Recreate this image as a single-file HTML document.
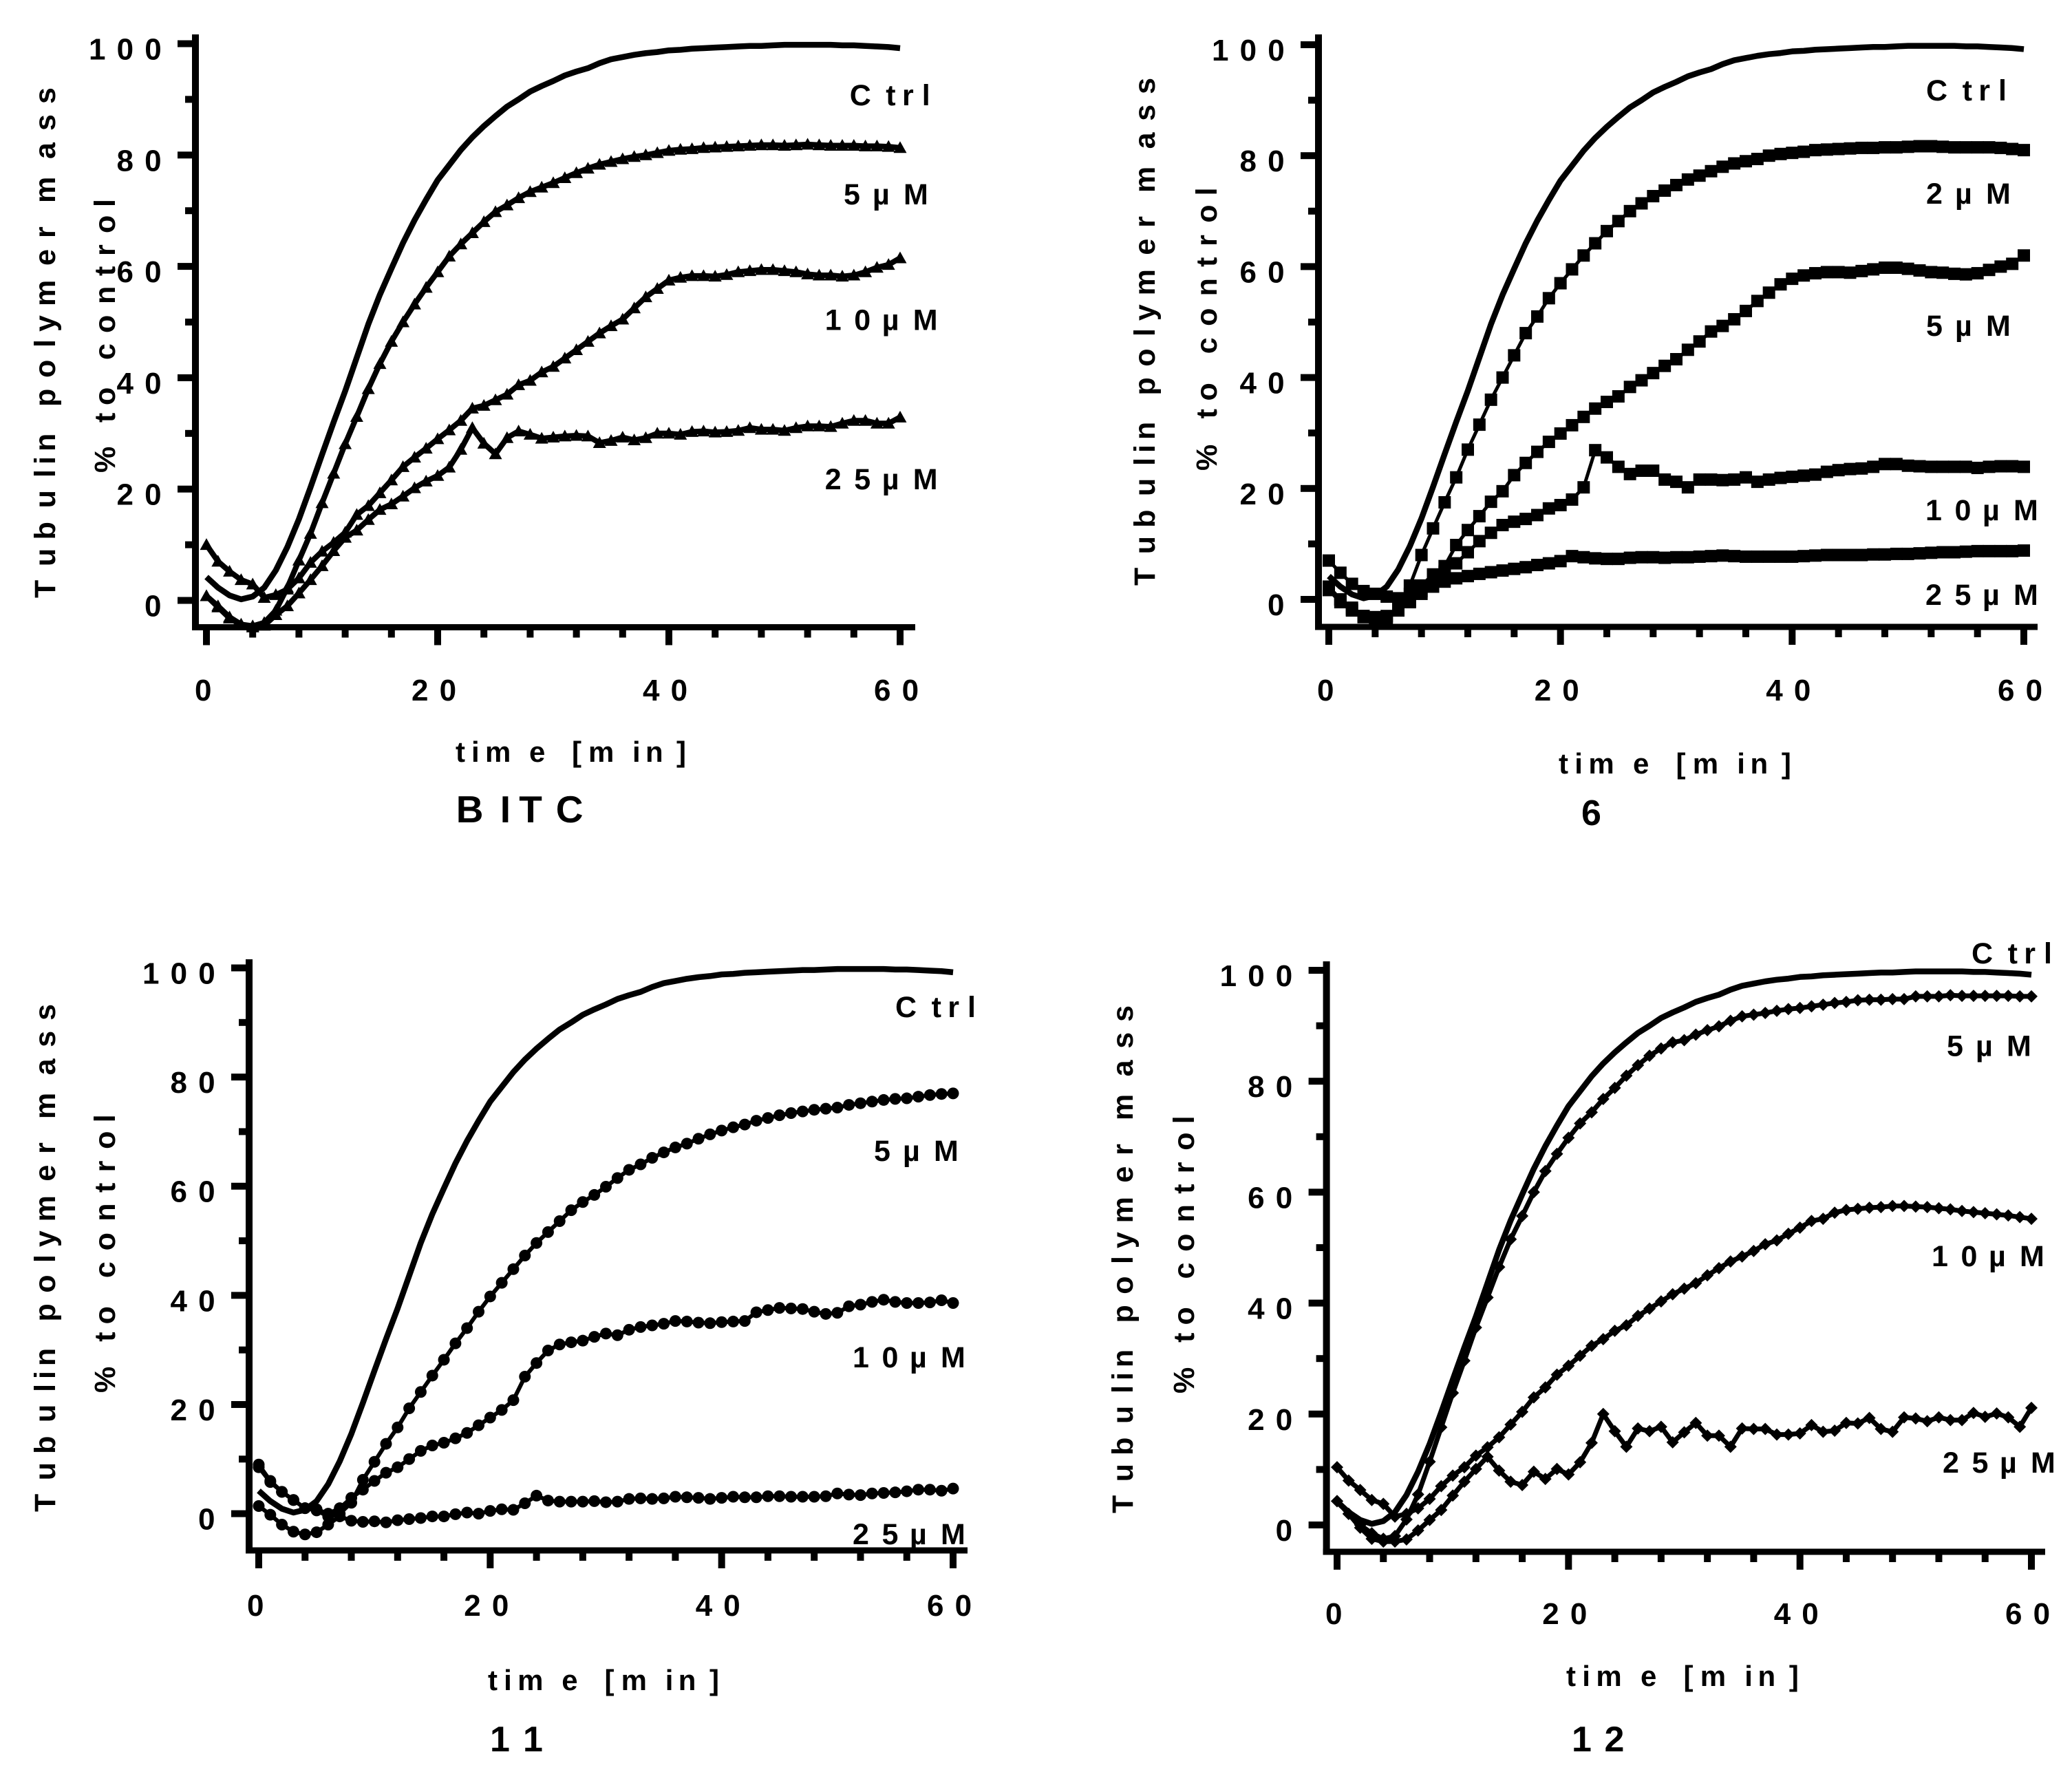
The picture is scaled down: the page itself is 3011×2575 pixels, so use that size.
<!DOCTYPE html>
<html lang="en">
<head>
<meta charset="utf-8">
<title>Tubulin polymerization charts</title>
<style>
html,body{margin:0;padding:0;background:#fff;}
svg{display:block;}
text{font-family:"Liberation Sans",Arial,sans-serif;font-weight:700;fill:#000;}
</style>
</head>
<body>
<svg id="figure" xmlns="http://www.w3.org/2000/svg" width="3011" height="2575" viewBox="0 0 3011 2575">
<rect x="0" y="0" width="3011" height="2575" fill="#fff"/>
</svg>
<script>
const timeMinutes = [0,1,2,3,4,5,6,7,8,9,10,11,12,13,14,15,16,17,18,19,20,21,22,23,24,25,26,27,28,29,30,31,32,33,34,35,36,37,38,39,40,41,42,43,44,45,46,47,48,49,50,51,52,53,54,55,56,57,58,59,60];
const yTickValues = [0,10,20,30,40,50,60,70,80,90,100];
const yTickLabels = [0,20,40,60,80,100];
const xTickValues = [0,4,8,12,16,20,24,28,32,36,40,44,48,52,56,60];
const xTickLabels = [0,20,40,60];

const ctrlValues = [4.2,2.3,0.9,0.2,0.7,2.3,5.4,9.6,14.6,20.3,
26.2,32,37.6,43.6,49.6,54.9,59.6,64.2,68.3,72,
75.5,78.2,80.9,83.2,85.2,87,88.7,90,91.4,92.4,
93.3,94.3,95,95.6,96.5,97.2,97.6,98,98.3,98.5,
98.8,98.9,99.1,99.2,99.3,99.4,99.5,99.6,99.6,99.7,
99.8,99.8,99.8,99.8,99.8,99.7,99.7,99.6,99.5,99.4,99.2];

const bitc5 = [0.8,-1,-3,-4.3,-4.6,-4,-1.8,2.3,7.2,12,
17.5,22.8,28.1,33,38,42.5,46.5,50,53.2,56.2,
59,61.8,64,66,68,69.8,71,72.3,73.4,74.2,
75,75.9,76.8,77.6,78.3,78.8,79.3,79.7,80,80.4,
80.8,81,81.1,81.3,81.4,81.5,81.6,81.7,81.8,81.8,
81.7,81.8,81.9,81.8,81.7,81.7,81.7,81.6,81.6,81.5,81.3];
const bitc10 = [10,7,5.2,3.7,2.9,0.5,1,2,4,6.8,
8.8,10.4,12.2,15.4,17,19.3,21.6,24,25.7,27.3,
29,30.6,32.3,34.5,35,36,37,38.7,39.5,41,
42,43.5,45,46.5,48,49.3,50.5,52.5,54.5,56,
57.5,58,58.3,58.3,58.2,58.5,59,59.2,59.4,59.4,
59.2,59,58.6,58.4,58.4,58.2,58.4,59,59.8,60.3,61.5];
const bitc25 = [0.8,-1.2,-3.2,-4.4,-4.8,-4.5,-2.6,-1,1.3,3.7,
6.2,8.9,11.3,12.6,14.5,16.3,17.3,18.7,20.2,21.4,
22.4,23.9,27.1,31,28.2,26.3,29.2,30.4,29.8,29.1,
29.3,29.5,29.6,29.5,28.3,28.7,29.3,28.8,29.2,30,
30,29.8,30.3,30.4,30.2,30.3,30.5,31,30.7,30.7,
30.5,31,31.3,31.3,31.2,31.8,32.3,32.3,31.8,31.8,32.9];

const cpd6s2 = [1.7,-0.5,-2,-3.2,-3.8,-3.2,-1.5,2.5,8,12.8,
17.5,22,27,31.5,36,40,44,48,51,54.3,
57,59.5,62,64.2,66.4,68.2,70,71.4,72.7,73.7,
74.7,75.7,76.4,77.2,78,78.6,79,79.4,80,80.3,
80.5,80.7,81,81.1,81.2,81.3,81.4,81.4,81.5,81.5,
81.6,81.7,81.7,81.6,81.5,81.5,81.5,81.5,81.4,81.2,81];
const cpd6s5 = [7,4.8,2.8,1.5,1,0.5,0.2,1,2.5,4.5,
6,9.8,12.5,15,17.6,19.5,22.4,24.6,26.6,28.4,
29.9,31.4,32.9,34.4,35.6,36.6,38.3,39.5,40.8,42.1,
43.3,45,46.5,48.3,49.3,50.5,52,53.8,55.3,56.8,
57.8,58.4,58.8,59,59,58.9,59.2,59.5,59.8,59.8,
59.6,59.3,59,58.9,58.7,58.6,58.8,59.4,60,60.5,62];
const cpd6s10 = [2.3,0,-1.8,-3,-3.6,-3.3,-2,-0.3,1.5,3.5,
5,6.5,8.5,10.5,12,13.4,14,14.5,15.2,16.4,
17,18,20.2,26.9,25.6,23.9,22.6,23.2,23.2,21.6,
21.2,20.2,21.6,21.6,21.5,21.6,22,21.2,21.6,21.9,
22.1,22.3,22.5,23,23.3,23.5,23.6,23.9,24.4,24.4,
24.1,24,23.9,23.9,23.9,23.9,23.7,23.9,24,24,23.9];
const cpd6s25 = [1.7,0,-1.5,-3,-3.2,-3,-1.5,-0.5,1,2.3,
3.2,3.8,4.2,4.6,4.9,5.2,5.5,5.8,6.2,6.5,
6.9,7.8,7.6,7.4,7.3,7.3,7.5,7.6,7.6,7.5,
7.6,7.6,7.7,7.8,7.9,7.8,7.7,7.7,7.7,7.7,
7.7,7.8,7.9,8,8,8,8,8.1,8.1,8.2,
8.2,8.3,8.4,8.5,8.5,8.6,8.7,8.7,8.7,8.7,8.8];

const cpd11s5 = [8.5,5.8,4,2.5,1,0.6,-0.5,0,2,6.2,
9.5,12.8,15.8,19.3,22.3,25.3,28.2,31.2,34,37,
39.8,42.3,44.8,47.3,49.6,51.6,53.6,55.6,57.1,58.4,
59.9,61.5,63,64,65.2,66.2,67.1,67.8,68.7,69.5,
70.2,70.8,71.3,72,72.5,73,73.4,73.7,74,74.2,
74.4,74.9,75.2,75.5,75.8,76,76.1,76.4,76.7,76.9,77];
const cpd11s10 = [9,6,4,2.5,1,0.8,0,1,2.9,4.4,
6,7.5,8.5,10,11.5,12.5,13,13.8,14.8,16.2,
17.6,19,20.8,25.1,27.6,29.9,31,31.4,31.7,32.4,
33,32.7,33.7,34.2,34.5,34.8,35.3,35.2,35,34.9,
35.1,35.2,35.3,36.9,37.3,37.7,37.6,37.5,37,36.6,
36.8,38,38.3,38.8,39.2,38.8,38.6,38.6,38.7,39.1,38.6];
const cpd11s25 = [1.4,-0.2,-2,-3.3,-3.8,-3.4,-2,-0.5,-1.3,-1.5,
-1.4,-1.6,-1.2,-1,-0.8,-0.5,-0.5,-0.1,0.2,0,
0.5,0.8,0.7,1.9,3.3,2.4,2.2,2.2,2.2,2.3,
2.1,2.2,2.7,2.8,2.7,2.8,3.1,3,2.9,2.7,
2.9,3.1,3,3,3.2,3.2,3.1,3.1,3.1,3.2,
3.7,3.5,3.4,3.7,3.8,3.9,4.1,4.4,4.4,4.2,4.6];

const cpd12s5 = [4.3,2,0,-1.5,-2.5,-2,1,5.5,11.4,17.6,
23.8,29.6,35.6,41,46.5,51.5,55.7,60,63.8,66.9,
69.8,72.4,74.4,76.8,78.8,81,82.9,84.6,85.9,87,
87.4,88.4,89.2,89.9,90.9,91.7,92,92.3,92.7,93,
93.2,93.5,93.8,94.1,94.3,94.6,94.7,94.7,94.8,94.8,
95.3,95.3,95.3,95.5,95.4,95.4,95.4,95.4,95.4,95.3,95.3];
const cpd12s10 = [10.4,8,6.3,4.5,3.8,1.5,2,3,4.7,7,
8.9,10.4,12.5,14,15.8,18.1,20.4,23,24.8,27.1,
28.7,30.5,32.3,33.5,35,36,37.7,39,40.3,41.6,
42.6,43.6,45,46.3,47.5,48.4,49.4,50.6,51.3,52.5,
53.6,54.8,55.2,56.3,56.8,57,57.2,57.3,57.5,57.5,
57.4,57.3,57.1,56.9,56.6,56.4,56.2,56,55.8,55.5,55.2];
const cpd12s25 = [4.3,2,-0.5,-2.5,-3,-3,-2.6,-1,0.9,2.7,
5.3,7.8,10.1,12.3,9.8,7.8,7.2,9.6,8.3,10.1,
9.1,11.3,14.8,20,16.9,14.1,17.4,16.9,17.7,14.9,
16.7,18.4,16.1,16.1,14.1,17.4,17.3,17.3,16.3,16.3,
16.5,18,16.8,17,18.4,18.3,19.3,17.3,16.8,19.4,
19.2,18.7,19.4,18.9,18.9,20.2,19.5,20.1,19.4,17.7,21.1];

const layouts = [
 {name:'bitc', title:'BITC', tx:662.7, ty:1195, tfs:55, tgaps:[0,64,91.5,145],
  yAxisX:284, x0:300, x60:1308, y0:872.5, y100:63.5, bottom:911.5, right:1330, top:50, xLabelY:1018,
  xTitle:[662,1107,332], yTitle:[80,869,742], pctTitle:[167,687,397], marker:'triangle', lw:8, ctrlW:8.5,
  series:[{key:'5 µM',values:bitc5,lx:1226,ly:297},{key:'10 µM',values:bitc10,lx:1198.7,ly:479.5},{key:'25 µM',values:bitc25,lx:1198.7,ly:711}],
  ctrl:{lx:1234.7,ly:153}},
 {name:'compound-6', title:'6', tx:2298, ty:1199, tfs:52, tgaps:[0],
  yAxisX:1916, x0:1931, x60:2941, y0:871, y100:65, bottom:911, right:2961, top:50, xLabelY:1018,
  xTitle:[2265,1124,335], yTitle:[1678,851,738], pctTitle:[1768,684,411], marker:'square', lw:5, ctrlW:8.5,
  series:[{key:'2 µM',values:cpd6s2,lx:2799,ly:296},{key:'5 µM',values:cpd6s5,lx:2799,ly:488},{key:'10 µM',values:cpd6s10,lx:2798,ly:756},{key:'25 µM',values:cpd6s25,lx:2798,ly:879}],
  ctrl:{lx:2799,ly:146}},
 {name:'compound-11', title:'11', tx:712, ty:2545, tfs:52, tgaps:[0,48],
  yAxisX:362, x0:376, x60:1385, y0:2199.6, y100:1406.5, bottom:2253, right:1406, top:1394, xLabelY:2348,
  xTitle:[709,2456,333], yTitle:[80,2197,738], pctTitle:[167,2024,404], marker:'circle', lw:6, ctrlW:8.5,
  series:[{key:'5 µM',values:cpd11s5,lx:1270,ly:1687},{key:'10 µM',values:cpd11s10,lx:1239,ly:1987},{key:'25 µM',values:cpd11s25,lx:1239,ly:2244}],
  ctrl:{lx:1301,ly:1478}},
 {name:'compound-12', title:'12', tx:2284, ty:2545, tfs:52, tgaps:[0,47.5],
  yAxisX:1927.6, x0:1943, x60:2952, y0:2216, y100:1410, bottom:2255, right:2972, top:1397, xLabelY:2360,
  xTitle:[2276,2450,335], yTitle:[1646,2199,738], pctTitle:[1735,2025,403], marker:'diamond', lw:7, ctrlW:8.5,
  series:[{key:'5 µM',values:cpd12s5,lx:2829,ly:1534.5},{key:'10 µM',values:cpd12s10,lx:2807,ly:1840},{key:'25 µM',values:cpd12s25,lx:2823,ly:2140}],
  ctrl:{lx:2865,ly:1400}}
];

// Glyph spacing of the original typesetting (one entry per character, spaces included).
const gapsYTitle = [0,46,84.6,130.7,175,194,213,260,278,320,364,387,424,483,523,555,574,638,679,718];
const gapsPct = [0,40,73,98,135,164,203,245,286,315,348,386];
const gapsTime = [0,23,43,107,140,169,193,257,276,321];
const gapsCtrl = [0,52.6,76.3,105];
const gapsOneDigit = [0,25,42,87];
const gapsTwoDigit = [0,42.5,65,83,128];

const svgNS = 'http://www.w3.org/2000/svg';
const figure = document.getElementById('figure');

function make(parent, tag, attrs){
  const el = document.createElementNS(svgNS, tag);
  for (const k in attrs) el.setAttribute(k, attrs[k]);
  parent.appendChild(el);
  return el;
}
function makeSpaced(parent, str, x, y, size, gaps, scale, rotate){
  const k = scale || 1;
  const attrs = {'font-size':size};
  if (rotate) {
    attrs.transform = 'translate(' + x + ',' + y + ') rotate(-90)';
    attrs.x = gaps.map(function(g){ return (g * k).toFixed(1); }).join(' ');
    attrs.y = 0;
  } else {
    attrs.x = gaps.map(function(g){ return (x + g * k).toFixed(1); }).join(' ');
    attrs.y = y;
  }
  const el = make(parent, 'text', attrs);
  el.textContent = str;
  return el;
}
function digitGaps(s){
  return s.split('').map(function(c,i){ return i * 40.6; });
}

function markerEl(parent, kind, cx, cy){
  let el;
  if (kind === 'triangle') {
    el = make(parent, 'polygon', {points:(cx) + ',' + (cy-9.5) + ' ' + (cx+9.5) + ',' + (cy+7.5) + ' ' + (cx-9.5) + ',' + (cy+7.5), fill:'#000'});
  } else if (kind === 'square') {
    el = make(parent, 'rect', {x:cx-9, y:cy-9, width:18, height:18, fill:'#000'});
  } else if (kind === 'circle') {
    el = make(parent, 'circle', {cx:cx, cy:cy, r:8.5, fill:'#000'});
  } else {
    el = make(parent, 'polygon', {points:cx + ',' + (cy-9) + ' ' + (cx+9) + ',' + cy + ' ' + cx + ',' + (cy+9) + ' ' + (cx-9) + ',' + cy, fill:'#000'});
  }
  return el;
}

layouts.forEach(function(p){
  const xScale = function(t){ return p.x0 + (p.x60 - p.x0) * t / 60; };
  const yScale = function(v){ return p.y0 + (p.y100 - p.y0) * v / 100; };

  const g = make(figure, 'g', {});
  
  

  // axes
  const yAxis = make(g, 'rect', {x:p.yAxisX-5, y:p.top, width:10, height:p.bottom+4.5-p.top, fill:'#000'});
  
  
  const xAxis = make(g, 'rect', {x:p.yAxisX-5, y:p.bottom-4.5, width:p.right-p.yAxisX+5, height:9, fill:'#000'});
  
  

  yTickValues.forEach(function(v){
    const major = yTickLabels.indexOf(v) >= 0;
    const len = major ? 26 : 15;
    const t = make(g, 'rect', {x:p.yAxisX-len, y:yScale(v)-5, width:len, height:10, fill:'#000'});
    
    
  });
  xTickValues.forEach(function(v){
    const major = xTickLabels.indexOf(v) >= 0;
    const len = major ? 26 : 15;
    const t = make(g, 'rect', {x:xScale(v)-5, y:p.bottom, width:10, height:len, fill:'#000'});
    
    
  });

  // tick labels
  yTickLabels.forEach(function(v){
    const s = String(v);
    const startX = p.yAxisX - 74 - (s.length - 1) * 40.5;
    const l = makeSpaced(g, s, startX, yScale(v) + 23, 44, digitGaps(s), 1, false);
    
    
  });
  xTickLabels.forEach(function(v){
    const s = String(v);
    const startX = xScale(v) - (s.length > 1 ? 38 : 17);
    const l = makeSpaced(g, s, startX, p.xLabelY, 44, digitGaps(s), 1, false);
    
    
  });

  // axis titles
  const xt = makeSpaced(g, 'time [min]', p.xTitle[0], p.xTitle[1], 42, gapsTime, p.xTitle[2] / 332, false);
  
  
  const yt = makeSpaced(g, 'Tubulin polymer mass', p.yTitle[0], p.yTitle[1], 43, gapsYTitle, p.yTitle[2] / 742, true);
  
  
  const pt = makeSpaced(g, '% to control', p.pctTitle[0], p.pctTitle[1], 43, gapsPct, p.pctTitle[2] / 397, true);
  
  
  const ti = makeSpaced(g, p.title, p.tx, p.ty, p.tfs, p.tgaps, 1, false);
  
  

  // control curve
  const ctrlPts = timeMinutes.map(function(t,i){ return xScale(t) + ',' + yScale(ctrlValues[i]); }).join(' ');
  const ctrlLine = make(g, 'polyline', {points:ctrlPts, fill:'none', stroke:'#000', 'stroke-width':p.ctrlW, 'stroke-linejoin':'round'});
  
  
  const cl = makeSpaced(g, 'Ctrl', p.ctrl.lx, p.ctrl.ly, 43, gapsCtrl, 1, false);
  
  

  // concentration curves
  p.series.forEach(function(s){
    const pts = timeMinutes.map(function(t,i){ return xScale(t) + ',' + yScale(s.values[i]); }).join(' ');
    const line = make(g, 'polyline', {points:pts, fill:'none', stroke:'#000', 'stroke-width':p.lw, 'stroke-linejoin':'round'});
    
    
    timeMinutes.forEach(function(t,i){
      const m = markerEl(g, p.marker, xScale(t), yScale(s.values[i]));
      
      
    });
    const lab = makeSpaced(g, s.key, s.lx, s.ly, 43, s.key.length > 4 ? gapsTwoDigit : gapsOneDigit, 1, false);
    
    
  });
});
</script>
</body>
</html>
